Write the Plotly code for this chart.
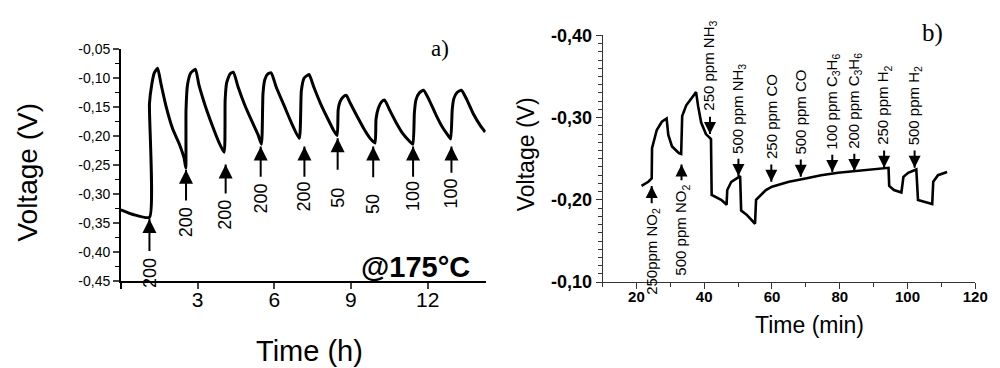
import plotly.graph_objects as go

# ---------------- Panel a data (time in h, voltage in V) ----------------
time_a = [0, 0.48, 1.12, 1.12, 1.21, 1.31, 1.44, 1.57, 1.77, 2.03, 2.29, 2.48, 2.54,
          2.55, 2.61, 2.74, 2.92, 3.05, 3.31, 3.57, 3.82, 4.04,
          4.08, 4.14, 4.27, 4.40, 4.59, 4.85, 5.11, 5.37, 5.50,
          5.56, 5.63, 5.75, 5.88, 6.08, 6.40, 6.66, 6.98,
          7.06, 7.17, 7.36, 7.55, 7.81, 8.07, 8.32, 8.46,
          8.50, 8.57, 8.69, 8.82, 8.98, 9.24, 9.50, 9.75, 9.94,
          9.98, 10.07, 10.20, 10.32, 10.51, 10.77, 11.03, 11.29, 11.42,
          11.48, 11.54, 11.67, 11.84, 12.06, 12.32, 12.58, 12.83, 12.90,
          12.96, 13.02, 13.15, 13.32, 13.54, 13.80, 14.06, 14.25]
volt_a = [-0.327, -0.335, -0.340, -0.144, -0.111, -0.091, -0.083, -0.110, -0.149, -0.188, -0.214, -0.239, -0.255,
          -0.155, -0.111, -0.091, -0.085, -0.111, -0.149, -0.181, -0.209, -0.228,
          -0.138, -0.108, -0.093, -0.090, -0.116, -0.147, -0.173, -0.198, -0.214,
          -0.127, -0.103, -0.093, -0.091, -0.116, -0.149, -0.176, -0.204,
          -0.122, -0.100, -0.094, -0.116, -0.144, -0.168, -0.190, -0.199,
          -0.155, -0.141, -0.133, -0.130, -0.144, -0.166, -0.187, -0.204, -0.212,
          -0.171, -0.152, -0.141, -0.138, -0.155, -0.177, -0.196, -0.209, -0.214,
          -0.160, -0.138, -0.126, -0.121, -0.138, -0.163, -0.185, -0.201, -0.205,
          -0.155, -0.136, -0.125, -0.121, -0.138, -0.163, -0.182, -0.193]

# gas pulses (ppm) marked by arrows in panel a
arrow_time_a = [1.12, 2.55, 4.10, 5.47, 7.18, 8.48, 9.87, 11.43, 12.93]
arrow_tip_a = [-0.343, -0.258, -0.249, -0.218, -0.218, -0.204, -0.218, -0.218, -0.218]
arrow_tail_a = [-0.398, -0.311, -0.299, -0.270, -0.270, -0.258, -0.271, -0.270, -0.263]
label_top_a = [-0.406, -0.319, -0.307, -0.279, -0.274, -0.286, -0.296, -0.274, -0.269]
ppm_a = ["200", "200", "200", "200", "200", "50", "50", "100", "100"]

yticks_a = [-0.45, -0.40, -0.35, -0.30, -0.25, -0.20, -0.15, -0.10, -0.05]
xticks_a = [3, 6, 9, 12]

# ---------------- Panel b data (time in min, voltage in V) ----------------
time_b = [21.5, 23.5, 24.5, 24.6, 26.0, 27.5, 28.9, 29.4, 30.5, 32.5, 33.2,
          33.5, 34.7, 36.2, 37.6, 38.2, 39.1, 40.5, 42.0,
          42.2, 45.0, 46.4, 46.6, 46.8, 48.0, 50.6,
          50.9, 52.5, 55.0, 55.3, 56.8, 58.2, 60.0, 65.0, 69.9, 74.5, 79.5, 84.4, 89.0, 94.4,
          94.6, 96.0, 98.2, 98.8, 100.2, 102.6,
          103.1, 104.6, 107.3, 107.6, 109.0, 111.7]
volt_b = [-0.217, -0.222, -0.226, -0.263, -0.285, -0.295, -0.299, -0.279, -0.265, -0.257, -0.256,
          -0.302, -0.315, -0.323, -0.331, -0.314, -0.294, -0.280, -0.274,
          -0.206, -0.200, -0.195, -0.194, -0.212, -0.222, -0.229,
          -0.187, -0.182, -0.171, -0.200, -0.206, -0.212, -0.216, -0.222, -0.226, -0.230, -0.233, -0.235, -0.237, -0.239,
          -0.217, -0.212, -0.209, -0.228, -0.233, -0.237,
          -0.200, -0.198, -0.195, -0.222, -0.230, -0.234]

# gas labels with downward arrows (above the curve)
gas_down_b = ["250 ppm NH<sub>3</sub>", "500 ppm NH<sub>3</sub>", "250 ppm CO", "500 ppm CO",
              "100 ppm C<sub>3</sub>H<sub>6</sub>", "200 ppm C<sub>3</sub>H<sub>6</sub>",
              "250 ppm H<sub>2</sub>", "500 ppm H<sub>2</sub>"]
down_time_b = [41.7, 50.1, 59.8, 68.5, 77.8, 84.3, 93.1, 102.1]
down_tip_b = [-0.280, -0.229, -0.222, -0.228, -0.234, -0.235, -0.239, -0.239]
down_tail_b = [-0.301, -0.250, -0.243, -0.249, -0.255, -0.256, -0.260, -0.260]
down_label_bottom_b = [-0.306, -0.254, -0.247, -0.253, -0.259, -0.260, -0.264, -0.264]

# gas labels with upward arrows (below the curve)
gas_up_b = ["250ppm NO<sub>2</sub>", "500 ppm NO<sub>2</sub>"]
up_time_b = [24.5, 33.3]
up_tip_b = [-0.217, -0.243]
up_tail_b = [-0.196, -0.224]
up_label_top_b = [-0.193, -0.221]

yticks_b = [-0.40, -0.30, -0.20, -0.10]
xticks_b = [20, 40, 60, 80, 100, 120]

FONT = "Arial, Liberation Sans, sans-serif"
SERIF = "Times New Roman, Liberation Serif, serif"


def comma(v):
    return f"{v:.2f}".replace(".", ",")


def stems(xs, y0s, y1s):
    sx, sy = [], []
    for x, a, b in zip(xs, y0s, y1s):
        sx += [x, x, None]
        sy += [a, b, None]
    return sx, sy


fig = go.Figure()
fig.add_trace(go.Scatter(x=time_a, y=volt_a, mode="lines", xaxis="x", yaxis="y",
                         line=dict(color="black", width=3, shape="spline", smoothing=0.5),
                         showlegend=False, hoverinfo="skip"))
fig.add_trace(go.Scatter(x=time_b, y=volt_b, mode="lines", xaxis="x2", yaxis="y2",
                         line=dict(color="black", width=2.6),
                         showlegend=False, hoverinfo="skip"))

# arrows of panel a: stems + heads
sx, sy = stems(arrow_time_a, arrow_tip_a, arrow_tail_a)
fig.add_trace(go.Scatter(x=sx, y=sy, mode="lines", xaxis="x", yaxis="y",
                         line=dict(color="black", width=2), showlegend=False, hoverinfo="skip"))
fig.add_trace(go.Scatter(x=arrow_time_a, y=arrow_tip_a, mode="markers", xaxis="x", yaxis="y",
                         marker=dict(symbol="arrow-up", size=14, color="black", line=dict(width=0)),
                         showlegend=False, hoverinfo="skip"))

# arrows of panel b
sx, sy = stems(down_time_b + up_time_b, down_tip_b + up_tip_b, down_tail_b + up_tail_b)
fig.add_trace(go.Scatter(x=sx, y=sy, mode="lines", xaxis="x2", yaxis="y2",
                         line=dict(color="black", width=2), showlegend=False, hoverinfo="skip"))
fig.add_trace(go.Scatter(x=down_time_b, y=down_tip_b, mode="markers", xaxis="x2", yaxis="y2",
                         marker=dict(symbol="arrow-down", size=12, color="black", line=dict(width=0)),
                         showlegend=False, hoverinfo="skip"))
fig.add_trace(go.Scatter(x=up_time_b, y=up_tip_b, mode="markers", xaxis="x2", yaxis="y2",
                         marker=dict(symbol="arrow-up", size=12, color="black", line=dict(width=0)),
                         showlegend=False, hoverinfo="skip"))

ann = []
for t, top, lab in zip(arrow_time_a, label_top_a, ppm_a):
    ann.append(dict(x=t, y=top, xref="x", yref="y", text=lab, showarrow=False, textangle=-90,
                    xanchor="center", yanchor="top", font=dict(family=FONT, size=18, color="black")))
for t, bot, lab in zip(down_time_b, down_label_bottom_b, gas_down_b):
    ann.append(dict(x=t, y=bot, xref="x2", yref="y2", text=lab, showarrow=False, textangle=-90,
                    xanchor="center", yanchor="bottom", font=dict(family=FONT, size=15, color="black")))
for t, top, lab in zip(up_time_b, up_label_top_b, gas_up_b):
    ann.append(dict(x=t, y=top, xref="x2", yref="y2", text=lab, showarrow=False, textangle=-90,
                    xanchor="center", yanchor="top", font=dict(family=FONT, size=15, color="black")))

# titles and panel marks
ann += [
    dict(x=0.020, y=0.558, xref="paper", yref="paper", text="Voltage (V)", textangle=-90, showarrow=False,
         xanchor="center", yanchor="middle", font=dict(family=FONT, size=28, color="black")),
    dict(x=0.305, y=0.043, xref="paper", yref="paper", text="Time (h)", showarrow=False,
         xanchor="center", yanchor="middle", font=dict(family=FONT, size=29, color="black")),
    dict(x=0.4125, y=0.285, xref="paper", yref="paper", text="<b>@175°C</b>", showarrow=False,
         xanchor="center", yanchor="middle", font=dict(family=FONT, size=29, color="black")),
    dict(x=0.438, y=0.913, xref="paper", yref="paper", text="a)", showarrow=False,
         xanchor="center", yanchor="middle", font=dict(family=SERIF, size=23, color="black")),
    dict(x=0.525, y=0.609, xref="paper", yref="paper", text="Voltage (V)", textangle=-90, showarrow=False,
         xanchor="center", yanchor="middle", font=dict(family=FONT, size=23, color="black")),
    dict(x=0.812, y=0.117, xref="paper", yref="paper", text="Time (min)", showarrow=False,
         xanchor="center", yanchor="middle", font=dict(family=FONT, size=23, color="black")),
    dict(x=0.937, y=0.957, xref="paper", yref="paper", text="b)", showarrow=False,
         xanchor="center", yanchor="middle", font=dict(family=SERIF, size=25, color="black")),
]

fig.update_layout(
    width=1000, height=368,
    margin=dict(l=0, r=0, t=0, b=0),
    paper_bgcolor="white", plot_bgcolor="white",
    annotations=ann,
    xaxis=dict(domain=[0.1143, 0.484], range=[0, 14.27], anchor="y",
               tickvals=xticks_a, ticktext=[str(v) for v in xticks_a], ticks="outside", ticklen=6, tickwidth=1.5,
               ticklabelstandoff=-7,
               minor=dict(tickvals=[0], ticks="outside", ticklen=6, tickwidth=1.5, tickcolor="black"),
               showline=True, linecolor="black", linewidth=1.5, showgrid=False, zeroline=False,
               tickfont=dict(family=FONT, size=21, color="black")),
    yaxis=dict(domain=[0.2437, 0.911], range=[-0.45, -0.05], anchor="x",
               tickvals=yticks_a, ticktext=[comma(v) for v in yticks_a], ticks="outside", ticklen=6, tickwidth=1.5,
               minor=dict(dtick=0.025, tick0=-0.45, ticks="outside", ticklen=4, tickwidth=1, tickcolor="black"),
               showline=True, linecolor="black", linewidth=1.5, showgrid=False, zeroline=False,
               tickfont=dict(family=FONT, size=14, color="black")),
    xaxis2=dict(domain=[0.6024, 0.980], range=[10, 120], anchor="y2",
                tickvals=xticks_b, ticktext=[str(v) for v in xticks_b], ticks="outside", ticklen=6, tickwidth=1,
                ticklabelstandoff=-5,
                minor=dict(dtick=10, tick0=0, ticks="outside", ticklen=4, tickwidth=1, tickcolor="#333"),
                showline=True, linecolor="#333", linewidth=1, showgrid=False, zeroline=False,
                tickcolor="#333",
                tickfont=dict(family=FONT, size=15, color="black", weight="bold")),
    yaxis2=dict(domain=[0.241, 0.950], range=[-0.10, -0.40], anchor="x2",
                tickvals=yticks_b, ticktext=[comma(v) for v in yticks_b], ticks="outside", ticklen=6, tickwidth=1,
                minor=dict(dtick=0.01, tick0=-0.40, ticks="outside", ticklen=4, tickwidth=1, tickcolor="#333"),
                showline=True, linecolor="#333", linewidth=1, showgrid=False, zeroline=False,
                tickcolor="#333",
                tickfont=dict(family=FONT, size=18, color="black", weight="bold")),
)

fig.write_html("out.html")
